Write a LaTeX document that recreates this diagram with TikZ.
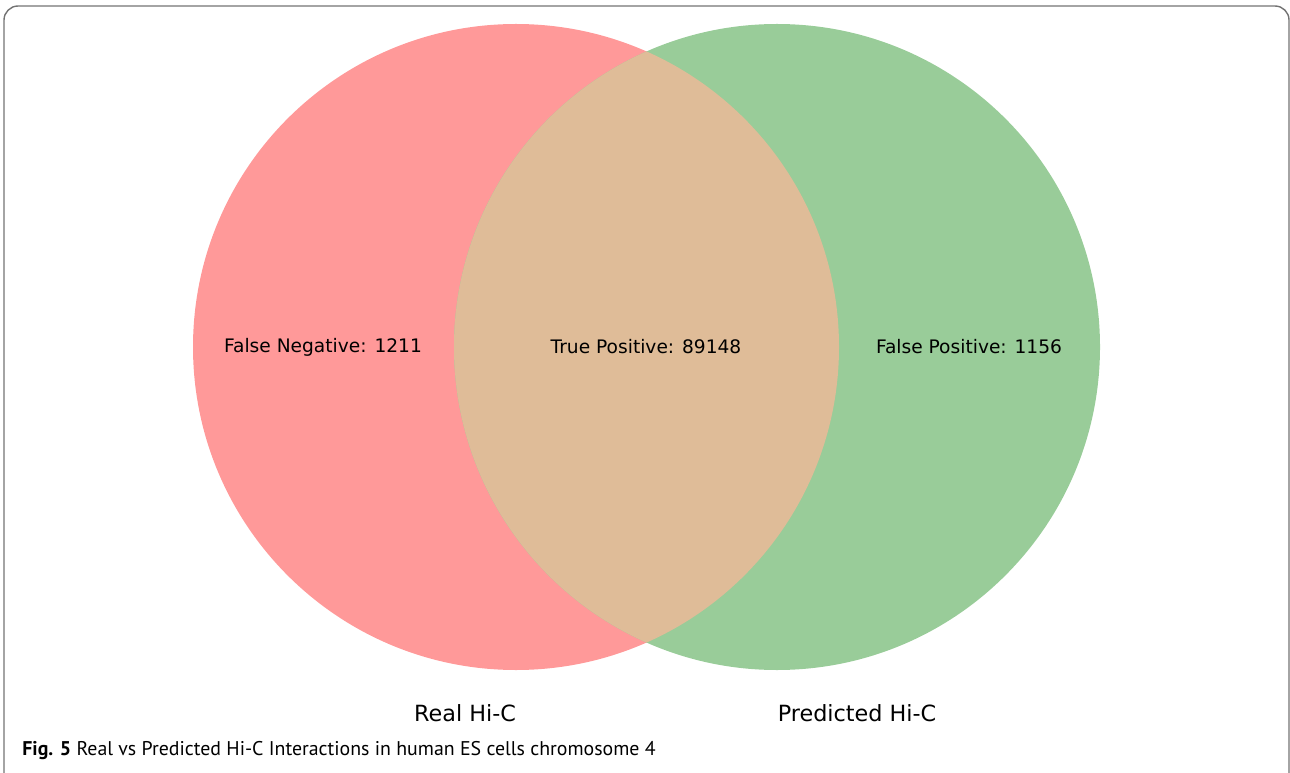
\documentclass[tikz,border=0pt]{standalone}
\usepackage{fontspec}
\setmainfont{DejaVu Sans}
\newfontfamily\captionfont{PT Sans}
\definecolor{realred}{RGB}{255,153,153}
\definecolor{predgreen}{RGB}{153,204,153}
\definecolor{bothtan}{RGB}{223,188,152}
\begin{document}
\begin{tikzpicture}[x=0.02cm, y=-0.02cm,
    frame/.style={draw=black!55, line width=0.8pt, rounded corners=8pt},
    setlabel/.style={font=\fontsize{10.6}{12}\selectfont, inner sep=0pt},
    settitle/.style={font=\fontsize{12.7}{15}\selectfont, inner sep=0pt},
    caption/.style={font=\captionfont\fontsize{11.3}{14}\selectfont, inner sep=0pt, anchor=base west},
  ]
  \useasboundingbox (0,0) rectangle (1290,773);
  \draw[frame] (4,6) rectangle (1289,790);

  % the two sets
  \coordinate (real) at (516,347);
  \coordinate (pred) at (777,347);
  \fill[realred] (real) circle (323);
  \fill[predgreen] (pred) circle (323);
  \begin{scope}
    \clip (real) circle (323);
    \fill[bothtan] (pred) circle (323);
  \end{scope}

  \node[setlabel] (fn) at (323,347) {False Negative: 1211};
  \node[setlabel] (tp) at (646,347) {True Positive: 89148};
  \node[setlabel] (fp) at (969,347) {False Positive: 1156};

  \node[settitle] (realname) at (465,713) {Real Hi-C};
  \node[settitle] (predname) at (857,713) {Predicted Hi-C};

  \node[caption] (cap) at (22,755) {\textbf{Fig. 5} Real vs Predicted Hi-C Interactions in human ES cells chromosome 4};
\end{tikzpicture}
\end{document}
